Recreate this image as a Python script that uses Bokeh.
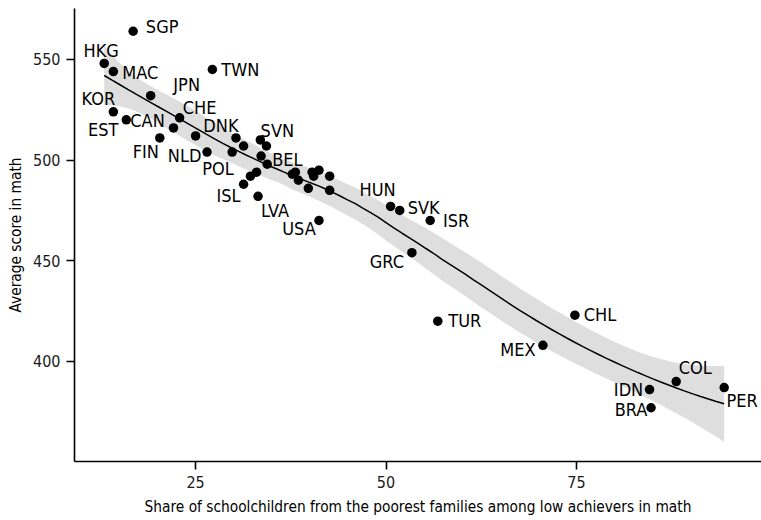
import numpy as np
from bokeh.plotting import figure
from bokeh.models import ColumnDataSource, Range1d, FixedTicker
from bokeh.core.properties import value
from bokeh.embed import file_html
from bokeh.resources import INLINE

# ---- data ----
countries = ["SGP", "HKG", "MAC", "TWN", "JPN", "KOR", "EST", "CHE", "CAN", "FIN",
             "NLD", "POL", "DNK", "SVN", "BEL", "ISL", "LVA", "USA", "HUN", "SVK",
             "ISR", "GRC", "TUR", "CHL", "MEX", "COL", "IDN", "BRA", "PER"]
share_low = [16.8, 13.0, 14.2, 27.2, 19.1, 14.2, 15.9, 22.9, 22.1, 20.3,
             25.0, 26.5, 30.3, 33.5, 34.3, 31.3, 33.2, 41.2, 50.6, 51.8,
             55.8, 53.4, 56.8, 74.8, 70.6, 88.1, 84.6, 84.8, 94.4]
math_score = [564, 548, 544, 545, 532, 524, 520, 521, 516, 511,
              512, 504, 511, 510, 507, 488, 482, 470, 477, 475,
              470, 454, 420, 423, 408, 390, 386, 377, 387]
# countries shown without a label
other_share = [31.3, 33.6, 29.8, 34.4, 32.2, 33.0, 37.7, 38.1, 38.5, 40.3,
               41.2, 40.5, 42.6, 39.8, 42.6]
other_score = [507, 502, 504, 498, 492, 494, 493, 494, 490, 494,
               495, 492, 492, 486, 485]
x_ticks = [25, 50, 75]
y_ticks = [400, 450, 500, 550]

# label placement (screen pixel offsets from each point)
label_dx = [29, -3, 27, 28, 36, -15, -23, 20, -26, -14,
            -11, 11, -15, 17, 21, -15, 17, -20, -13, 24,
            26, -25, 27, 25, -25, 19, -21, -20, 18]
label_dy = [-5, -13, 1, 0, -11, -13, 10, -10, -7, 14,
            20, 16, -12, -9, 13, 11, 14, 8, -17, -3,
            0, 9, -1, -1, 4, -14, 0, 2, 13]

FONT = "'DejaVu Sans Condensed', 'Liberation Sans', sans-serif"


def loess_band(x, y, x_eval, span=0.75):
    n = len(x)
    q = int(np.floor(n * span))

    def op_row(x0):
        d = np.abs(x - x0)
        h = np.sort(d)[q - 1]
        u = d / h
        w = np.where(u < 1, (1 - u ** 3) ** 3, 0.0)
        X = np.column_stack([np.ones(n), x - x0, (x - x0) ** 2])
        XtW = X.T * w
        return np.linalg.solve(XtW @ X, XtW)[0]

    L = np.array([op_row(v) for v in x])
    Le = np.array([op_row(v) for v in x_eval])
    res = y - L @ y
    M = (np.eye(n) - L).T @ (np.eye(n) - L)
    one = np.trace(M)
    two = np.trace(M @ M)
    s = np.sqrt(np.sum(res ** 2) / one)
    fit = Le @ y
    se = s * np.sqrt(np.sum(Le ** 2, axis=1))
    df = one ** 2 / two
    z = 1.959963985
    t = (z + (z ** 3 + z) / (4 * df) + (5 * z ** 5 + 16 * z ** 3 + 3 * z) / (96 * df ** 2)
         + (3 * z ** 7 + 19 * z ** 5 + 17 * z ** 3 - 15 * z) / (384 * df ** 3))
    return fit, fit - t * se, fit + t * se


all_x = np.array(share_low + other_share, dtype=float)
all_y = np.array(math_score + other_score, dtype=float)
xs = np.linspace(all_x.min(), all_x.max(), 80)
fit, lo, hi = loess_band(all_x, all_y, xs)

p = figure(width=761, height=520, output_backend="svg", toolbar_location=None,
           x_range=Range1d(9.1, 99.3), y_range=Range1d(350.3, 575.3),
           min_border_left=74, min_border_right=0, min_border_top=8, min_border_bottom=59,
           background_fill_color="white", border_fill_color="white")
p.outline_line_color = None
p.xgrid.visible = False
p.ygrid.visible = False

p.varea(x=xs, y1=lo, y2=hi, fill_color="#dedede", fill_alpha=1.0)
p.line(x=xs, y=fit, line_color="black", line_width=1.5)

p.scatter(x=other_share, y=other_score, size=9.5, fill_color="black", line_color=None)
src = ColumnDataSource(dict(x=share_low, y=math_score, name=countries, dx=label_dx, dy=label_dy))
p.scatter(x="x", y="y", source=src, size=9.5, fill_color="black", line_color=None)
p.text(x="x", y="y", text="name", x_offset="dx", y_offset="dy", source=src,
       text_font=value(FONT), text_font_size="18px", text_color="black",
       text_align="center", text_baseline="middle")

for ax in (p.xaxis[0], p.yaxis[0]):
    ax.axis_line_width = 1.6
    ax.axis_line_color = "black"
    ax.major_tick_line_width = 1.6
    ax.major_tick_line_color = "black"
    ax.major_tick_out = 8
    ax.major_tick_in = 0
    ax.minor_tick_line_color = None
    ax.major_label_text_font = FONT
    ax.major_label_text_font_size = "16px"
    ax.major_label_text_color = "#1a1a1a"
    ax.axis_label_text_font = FONT
    ax.axis_label_text_font_size = "15.3px"
    ax.axis_label_text_font_style = "normal"
    ax.axis_label_text_color = "black"

p.xaxis.ticker = FixedTicker(ticks=x_ticks)
p.yaxis.ticker = FixedTicker(ticks=y_ticks)
p.xaxis.axis_label = "Share of schoolchildren from the poorest families among low achievers in math"
p.yaxis.axis_label = "Average score in math"
p.xaxis.major_label_standoff = 6
p.xaxis.axis_label_standoff = 7
p.yaxis.major_label_standoff = 6
p.yaxis.axis_label_standoff = 5

open("out.html", "w").write(file_html(p, INLINE))
